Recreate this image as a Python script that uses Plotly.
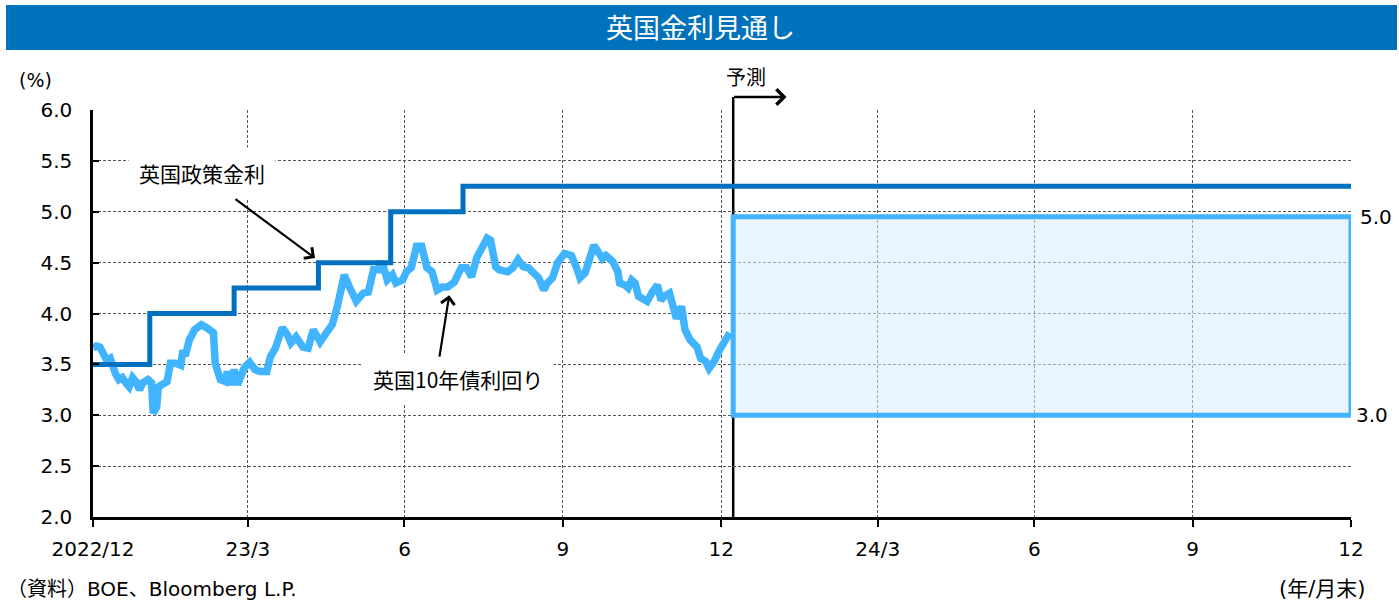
import plotly.graph_objects as go

# ---------------- data ----------------
policy_dates = ["2022-12-31", "2023-02-02", "2023-03-23", "2023-05-11", "2023-06-22", "2023-08-03", "2024-12-31"]
policy_rate = [3.5, 4.0, 4.25, 4.5, 5.0, 5.25, 5.25]

y10_dates = [
    "2022-12-31", "2023-01-02", "2023-01-04", "2023-01-06", "2023-01-08", "2023-01-10", "2023-01-11", "2023-01-13", "2023-01-15", "2023-01-17",
    "2023-01-19", "2023-01-21", "2023-01-23", "2023-01-25", "2023-01-27", "2023-01-29", "2023-02-01", "2023-02-03", "2023-02-04", "2023-02-06",
    "2023-02-07", "2023-02-10", "2023-02-12", "2023-02-14", "2023-02-17", "2023-02-20", "2023-02-21", "2023-02-23", "2023-02-25", "2023-02-28",
    "2023-03-04", "2023-03-07", "2023-03-11", "2023-03-12", "2023-03-14", "2023-03-15", "2023-03-18", "2023-03-19", "2023-03-21", "2023-03-23",
    "2023-03-25", "2023-03-27", "2023-03-29", "2023-04-01", "2023-04-04", "2023-04-07", "2023-04-11", "2023-04-13", "2023-04-16", "2023-04-20",
    "2023-04-23", "2023-04-25", "2023-04-28", "2023-05-02", "2023-05-05", "2023-05-08", "2023-05-12", "2023-05-16", "2023-05-19", "2023-05-22",
    "2023-05-26", "2023-05-29", "2023-06-02", "2023-06-06", "2023-06-09", "2023-06-12", "2023-06-15", "2023-06-17", "2023-06-20", "2023-06-23",
    "2023-06-25", "2023-06-29", "2023-07-01", "2023-07-04", "2023-07-07", "2023-07-10", "2023-07-13", "2023-07-16", "2023-07-19", "2023-07-22",
    "2023-07-25", "2023-07-29", "2023-08-02", "2023-08-05", "2023-08-08", "2023-08-11", "2023-08-14", "2023-08-17", "2023-08-19", "2023-08-22",
    "2023-08-24", "2023-08-29", "2023-09-01", "2023-09-04", "2023-09-07", "2023-09-10", "2023-09-13", "2023-09-16", "2023-09-19", "2023-09-21",
    "2023-09-24", "2023-09-27", "2023-10-01", "2023-10-05", "2023-10-08", "2023-10-10", "2023-10-13", "2023-10-16", "2023-10-18", "2023-10-20",
    "2023-10-23", "2023-10-25", "2023-10-29", "2023-11-01", "2023-11-02", "2023-11-05", "2023-11-07", "2023-11-09", "2023-11-11", "2023-11-13",
    "2023-11-16", "2023-11-18", "2023-11-21", "2023-11-24", "2023-11-26", "2023-11-28", "2023-12-01", "2023-12-03", "2023-12-05", "2023-12-08",
    "2023-12-10", "2023-12-13", "2023-12-15", "2023-12-17", "2023-12-19", "2023-12-22", "2023-12-24", "2023-12-27", "2023-12-30", "2024-01-01",
    "2024-01-03", "2024-01-05",
]
y10_yield = [
    3.66, 3.68, 3.67, 3.58, 3.54, 3.56, 3.49, 3.41, 3.35, 3.37,
    3.32, 3.28, 3.37, 3.33, 3.25, 3.32, 3.35, 3.32, 3.02, 3.08,
    3.28, 3.30, 3.33, 3.51, 3.51, 3.49, 3.61, 3.61, 3.74, 3.84,
    3.89, 3.86, 3.81, 3.51, 3.38, 3.35, 3.33, 3.43, 3.30, 3.45,
    3.30, 3.41, 3.47, 3.52, 3.45, 3.43, 3.43, 3.57, 3.66, 3.86,
    3.79, 3.71, 3.77, 3.67, 3.66, 3.84, 3.72, 3.82, 3.89, 4.07,
    4.38, 4.26, 4.12, 4.20, 4.21, 4.43, 4.43, 4.51, 4.33, 4.38,
    4.30, 4.33, 4.41, 4.45, 4.66, 4.66, 4.45, 4.41, 4.23, 4.26,
    4.26, 4.31, 4.45, 4.45, 4.36, 4.55, 4.63, 4.74, 4.72, 4.46,
    4.43, 4.41, 4.45, 4.53, 4.46, 4.45, 4.40, 4.35, 4.23, 4.30,
    4.35, 4.50, 4.59, 4.57, 4.45, 4.35, 4.40, 4.57, 4.67, 4.62,
    4.54, 4.57, 4.51, 4.41, 4.30, 4.28, 4.25, 4.33, 4.30, 4.17,
    4.13, 4.12, 4.21, 4.28, 4.13, 4.17, 4.20, 4.03, 3.95, 4.07,
    3.84, 3.74, 3.69, 3.67, 3.56, 3.53, 3.46, 3.53, 3.64, 3.69,
    3.77, 3.81,
]

forecast_start = "2024-01-07"
forecast_end = "2024-12-31"
forecast_low = 3.0
forecast_high = 4.95
forecast_labels = ["5.0", "3.0"]

x_tickvals = ["2022-12-31", "2023-03-31", "2023-06-30", "2023-09-30", "2023-12-31",
              "2024-03-31", "2024-06-30", "2024-09-30", "2024-12-31"]
x_ticktext = ["2022/12", "23/3", "6", "9", "12", "24/3", "6", "9", "12"]

title_text = "英国金利見通し"
policy_label = "英国政策金利"
yield_label = "英国10年債利回り"
forecast_label = "予測"
source_text = "（資料）BOE、Bloomberg L.P."
unit_x_text = "(年/月末)"

# ---------------- styling ----------------
FONT = "DejaVu Sans, Noto Sans CJK JP, sans-serif"
JFONT = "Noto Sans CJK JP, DejaVu Sans, sans-serif"
DARK_BLUE = "#0070C0"
LIGHT_BLUE = "#41B4FF"
GRID = "#555555"

fig = go.Figure()

fig.add_trace(go.Scatter(
    x=y10_dates, y=y10_yield, mode="lines",
    line=dict(color=LIGHT_BLUE, width=7.5), hoverinfo="skip"))
fig.add_trace(go.Scatter(
    x=policy_dates, y=policy_rate, mode="lines", line_shape="hv",
    line=dict(color=DARK_BLUE, width=5), hoverinfo="skip"))

shapes = [
    # title bar
    dict(type="rect", xref="paper", yref="paper",
         x0=(6 - 93) / 1258, x1=(1397 - 93) / 1258,
         y0=(517 - 50) / 407, y1=(517 - 5) / 407,
         fillcolor="#0072BC", line=dict(width=0), layer="above"),
    # forecast boundary line
    dict(type="line", xref="x", yref="paper",
         x0=forecast_start, x1=forecast_start, y0=0, y1=(517 - 97) / 407,
         line=dict(color="black", width=2.5), layer="between"),
    # forecast range box
    dict(type="rect", xref="x", yref="y",
         x0=forecast_start, x1=forecast_end, y0=forecast_low, y1=forecast_high,
         fillcolor="rgba(215,235,251,0.55)",
         line=dict(color=LIGHT_BLUE, width=5), layer="between"),
]

annotations = [
    dict(text=title_text, xref="paper", yref="paper", x=(700 - 93) / 1258, y=(517 - 27) / 407,
         showarrow=False, font=dict(family=JFONT, size=27, color="white"),
         xanchor="center", yanchor="middle"),
    dict(text="(%)", xref="paper", yref="paper", x=(35 - 93) / 1258, y=(517 - 80) / 407,
         showarrow=False, font=dict(family=FONT, size=19, color="black"),
         xanchor="center", yanchor="middle"),
    dict(text=source_text, xref="paper", yref="paper",
         x=(6 - 93) / 1258, y=(517 - 589) / 407, showarrow=False, borderpad=0,
         font=dict(family=FONT, size=20, color="black"), xanchor="left", yanchor="middle"),
    dict(text=unit_x_text, xref="paper", yref="paper",
         x=(1366 - 93) / 1258, y=(517 - 589) / 407, showarrow=False, borderpad=0,
         font=dict(family=FONT, size=21, color="black"), xanchor="right", yanchor="middle"),
    # right-side range labels
    dict(text=forecast_labels[0], xref="paper", yref="y", x=(1358 - 93) / 1258, y=forecast_high,
         showarrow=False, font=dict(family=FONT, size=20, color="black"),
         xanchor="left", yanchor="middle"),
    dict(text=forecast_labels[1], xref="paper", yref="y", x=(1354 - 93) / 1258, y=forecast_low,
         showarrow=False, font=dict(family=FONT, size=20, color="black"),
         xanchor="left", yanchor="middle"),
    # labels with white background
    dict(text=policy_label, xref="paper", yref="paper",
         x=(202 - 93) / 1258, y=(517 - 173) / 407, showarrow=False,
         font=dict(family=JFONT, size=21, color="black"), bgcolor="white",
         borderpad=10, xanchor="center", yanchor="middle"),
    dict(text=yield_label, xref="paper", yref="paper",
         x=(458 - 93) / 1258, y=(517 - 379) / 407, showarrow=False,
         font=dict(family=JFONT, size=21, color="black"), bgcolor="white",
         borderpad=10, xanchor="center", yanchor="middle"),
    # arrows
    dict(text="", x="2023-05-09", y=4.545, xref="x", yref="y",
         ax=-81, ay=-60, showarrow=True, arrowhead=4, arrowsize=1.2,
         arrowwidth=2.2, arrowcolor="black", standoff=0),
    dict(text="", x="2023-07-26", y=4.18, xref="x", yref="y",
         ax=-10, ay=63, showarrow=True, arrowhead=4, arrowsize=1.2,
         arrowwidth=2.2, arrowcolor="black", standoff=0),
    dict(text="", x="2024-02-07", y=(517 - 97) / 407, xref="x", yref="paper",
         ax=-54, ay=0, showarrow=True, arrowhead=4, arrowsize=1.2,
         arrowwidth=2.5, arrowcolor="black", standoff=0),
    dict(text=forecast_label, xref="paper", yref="paper",
         x=(746 - 93) / 1258, y=(517 - 76) / 407, showarrow=False,
         font=dict(family=JFONT, size=20, color="black"),
         xanchor="center", yanchor="middle"),
]

fig.update_layout(
    width=1399, height=602,
    margin=dict(l=93, r=48, t=110, b=85, pad=0),
    paper_bgcolor="white", plot_bgcolor="white",
    showlegend=False,
    font=dict(family=FONT, size=20, color="black"),
    shapes=shapes, annotations=annotations,
    xaxis=dict(
        type="date", range=["2022-12-31", "2024-12-31"],
        tickmode="array", tickvals=x_tickvals, ticktext=x_ticktext,
        ticks="outside", ticklen=7, tickwidth=2, tickcolor="black",
        showline=True, linecolor="black", linewidth=2.5,
        showgrid=True, gridcolor=GRID, gridwidth=1, griddash="3px,2px",
        zeroline=False, tickfont=dict(family=FONT, size=20, color="black"),
        ticklabelstandoff=5,
    ),
    yaxis=dict(
        range=[2.0, 6.0], tickmode="linear", tick0=2.0, dtick=0.5, tickformat=".1f",
        ticks="inside", ticklen=6, tickwidth=2, tickcolor="black",
        showline=True, linecolor="black", linewidth=2.5,
        showgrid=True, gridcolor=GRID, gridwidth=1, griddash="3px,2px",
        zeroline=False, tickfont=dict(family=FONT, size=20, color="black"),
        ticklabelstandoff=14,
    ),
)

fig.write_html("out.html")
